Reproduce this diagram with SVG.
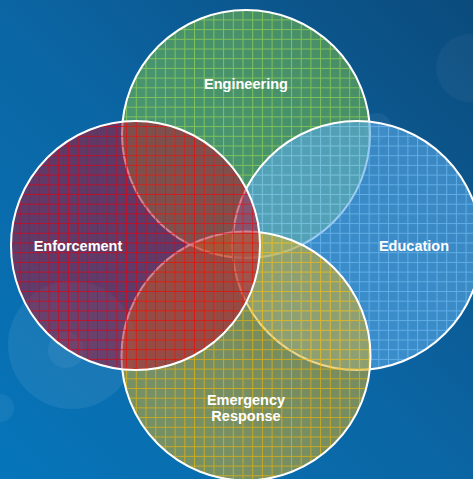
<svg xmlns="http://www.w3.org/2000/svg" width="473" height="479" viewBox="0 0 473 479">
<defs>
<linearGradient id="bg" x1="0" y1="1" x2="1" y2="0">
<stop offset="0" stop-color="#0675ba"/>
<stop offset="0.5" stop-color="#0b65a3"/>
<stop offset="1" stop-color="#0b4b7c"/>
</linearGradient>
<pattern id="lGreen" patternUnits="userSpaceOnUse" width="9.7" height="9.7">
<path d="M0 0.5H9.7M0.5 0V9.7" stroke="#a4e050" stroke-width="1"/>
</pattern>
<pattern id="lBlue" patternUnits="userSpaceOnUse" width="9.7" height="9.7">
<path d="M0 0.5H9.7M0.5 0V9.7" stroke="#7cc4fa" stroke-width="1"/>
</pattern>
<pattern id="lYellow" patternUnits="userSpaceOnUse" width="9.7" height="9.7">
<path d="M0 0.5H9.7M0.5 0V9.7" stroke="#f4b800" stroke-width="1"/>
</pattern>
<pattern id="lRed" patternUnits="userSpaceOnUse" width="9.7" height="9.7">
<path d="M0 0.5H9.7M0.5 0V9.7" stroke="#e00010" stroke-width="1"/>
</pattern>
</defs>
<style>
.lbl{font-family:"Liberation Sans",Arial,sans-serif;font-weight:bold;font-size:14.5px;fill:#ffffff;text-anchor:middle}
.ring{fill:none;stroke:#ffffff;stroke-width:2}
.bokeh{fill:#ffffff}
</style>
<rect width="473" height="479" fill="url(#bg)"/>
<g id="bokeh">
<circle class="bokeh" cx="72" cy="345" r="64" opacity="0.07"/>
<circle class="bokeh" cx="66" cy="350" r="18" opacity="0.06"/>
<circle class="bokeh" cx="0" cy="408" r="14" opacity="0.06"/>
<circle class="bokeh" cx="470" cy="68" r="34" opacity="0.04"/>
<circle class="bokeh" cx="377" cy="127" r="14" opacity="0.06"/>
</g>
<g id="engineering">
<circle cx="246" cy="134" r="124" fill="#7cc048" opacity="0.55"/>
<circle cx="246" cy="134" r="124" fill="url(#lGreen)" opacity="0.6"/>
<circle class="ring" cx="246" cy="134" r="124"/>
<text class="lbl" x="246" y="89">Engineering</text>
</g>
<g id="education">
<circle cx="357" cy="245.5" r="124.5" fill="#5aaae8" opacity="0.6"/>
<circle cx="357" cy="245.5" r="124.5" fill="url(#lBlue)" opacity="0.6"/>
<circle class="ring" cx="357" cy="245.5" r="124.5"/>
<text class="lbl" x="414" y="251">Education</text>
</g>
<g id="emergency">
<circle cx="246" cy="356" r="124.5" fill="#dcb020" opacity="0.52"/>
<circle cx="246" cy="356" r="124.5" fill="url(#lYellow)" opacity="0.65"/>
<circle class="ring" cx="246" cy="356" r="124.5"/>
<text class="lbl" x="246" y="405">Emergency</text>
<text class="lbl" x="246" y="421">Response</text>
</g>
<g id="enforcement">
<circle cx="135.5" cy="245.5" r="124.5" fill="#b0102c" opacity="0.52"/>
<circle cx="135.5" cy="245.5" r="124.5" fill="url(#lRed)" opacity="0.7"/>
<circle class="ring" cx="135.5" cy="245.5" r="124.5"/>
<text class="lbl" x="78" y="251">Enforcement</text>
</g>
<g id="connectors"/>
</svg>
